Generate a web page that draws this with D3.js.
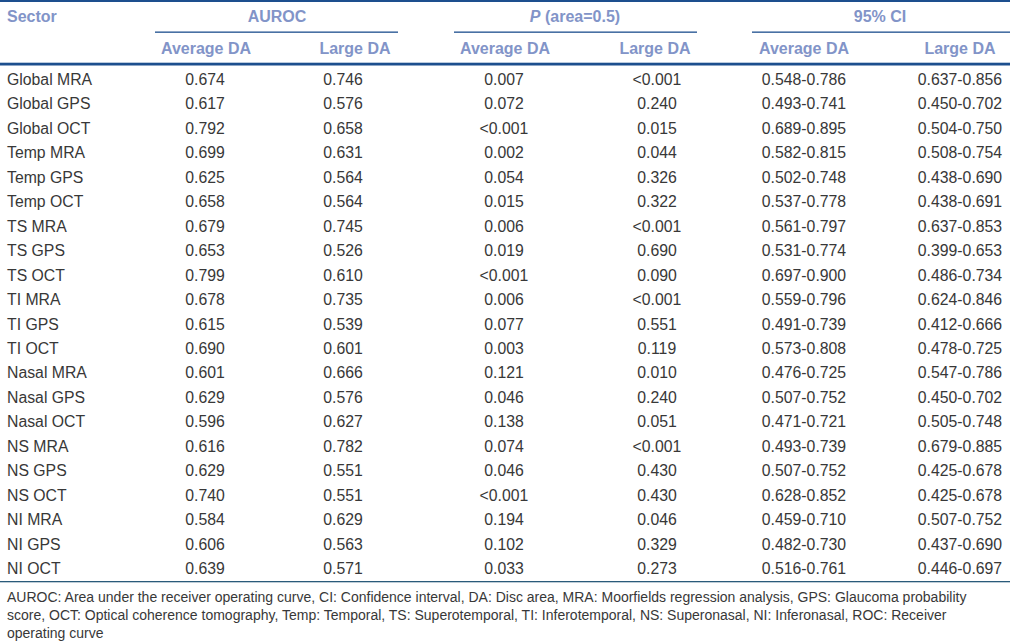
<!DOCTYPE html>
<html><head><meta charset="utf-8">
<script src="https://cdn.jsdelivr.net/npm/d3@7"></script>
<style>
html,body{margin:0;padding:0;background:#fff;}
svg{display:block;font-family:"Liberation Sans",Arial,Helvetica,sans-serif;}
</style></head>
<body>
<svg id="t" width="1010" height="644"></svg>
<script>
const sectors = ["Global MRA","Global GPS","Global OCT","Temp MRA","Temp GPS","Temp OCT","TS MRA","TS GPS","TS OCT","TI MRA","TI GPS","TI OCT","Nasal MRA","Nasal GPS","Nasal OCT","NS MRA","NS GPS","NS OCT","NI MRA","NI GPS","NI OCT"];
const aurocAvg = ["0.674","0.617","0.792","0.699","0.625","0.658","0.679","0.653","0.799","0.678","0.615","0.690","0.601","0.629","0.596","0.616","0.629","0.740","0.584","0.606","0.639"];
const aurocLarge = ["0.746","0.576","0.658","0.631","0.564","0.564","0.745","0.526","0.610","0.735","0.539","0.601","0.666","0.576","0.627","0.782","0.551","0.551","0.629","0.563","0.571"];
const pAvg = ["0.007","0.072","<0.001","0.002","0.054","0.015","0.006","0.019","<0.001","0.006","0.077","0.003","0.121","0.046","0.138","0.074","0.046","<0.001","0.194","0.102","0.033"];
const pLarge = ["<0.001","0.240","0.015","0.044","0.326","0.322","<0.001","0.690","0.090","<0.001","0.551","0.119","0.010","0.240","0.051","<0.001","0.430","0.430","0.046","0.329","0.273"];
const ciAvg = ["0.548-0.786","0.493-0.741","0.689-0.895","0.582-0.815","0.502-0.748","0.537-0.778","0.561-0.797","0.531-0.774","0.697-0.900","0.559-0.796","0.491-0.739","0.573-0.808","0.476-0.725","0.507-0.752","0.471-0.721","0.493-0.739","0.507-0.752","0.628-0.852","0.459-0.710","0.482-0.730","0.516-0.761"];
const ciLarge = ["0.637-0.856","0.450-0.702","0.504-0.750","0.508-0.754","0.438-0.690","0.438-0.691","0.637-0.853","0.399-0.653","0.486-0.734","0.624-0.846","0.412-0.666","0.478-0.725","0.547-0.786","0.450-0.702","0.505-0.748","0.679-0.885","0.425-0.678","0.425-0.678","0.507-0.752","0.437-0.690","0.446-0.697"];
const groupHeaders = ["AUROC","P (area=0.5)","95% CI"];
const subHeaders = ["Average DA","Large DA","Average DA","Large DA","Average DA","Large DA"];
const footnote = ["AUROC: Area under the receiver operating curve, CI: Confidence interval, DA: Disc area, MRA: Moorfields regression analysis, GPS: Glaucoma probability",
"score, OCT: Optical coherence tomography, Temp: Temporal, TS: Superotemporal, TI: Inferotemporal, NS: Superonasal, NI: Inferonasal, ROC: Receiver",
"operating curve"];

// layout
const W = 1010;
const lineCol = "#1d4f8e", headCol = "#8294c8", textCol = "#383838";
const fs = 15.8, fsHead = 16, fsFoot = 14;
const svg = d3.select("#t");

const y = d3.scalePoint().domain(sectors).range([85, 574]);
const valueCols = [aurocAvg, aurocLarge, pAvg, pLarge, ciAvg, ciLarge];
const colX = d3.scaleOrdinal().domain(d3.range(6)).range([205, 343, 504, 657, 804, 960]);
const subX = d3.scaleOrdinal().domain(d3.range(6)).range([206, 355, 505, 655, 804, 960]);
const groups = [{x0:155,x1:398,cx:277},{x0:454,x1:697,cx:575},{x0:752,x1:1010,cx:880}];

// rules
svg.append("rect").attr("x",0).attr("y",0).attr("width",W).attr("height",2).attr("fill",lineCol);
svg.append("rect").attr("x",0).attr("y",62.7).attr("width",W).attr("height",2.8).attr("fill",lineCol);
svg.append("rect").attr("x",0).attr("y",581).attr("width",W).attr("height",1.3).attr("fill","#2a5a7a");
svg.selectAll("rect.g").data(groups).join("rect").attr("class","g")
  .attr("x",d=>d.x0).attr("y",31.5).attr("width",d=>d.x1-d.x0).attr("height",1.3).attr("fill",lineCol);

// headers
const hdr = svg.append("g").attr("fill",headCol).attr("font-weight","bold").attr("font-size",fsHead);
hdr.append("text").attr("x",7).attr("y",22).text("Sector");
hdr.selectAll("text.gh").data(groups).join("text").attr("class","gh")
  .attr("x",d=>d.cx).attr("y",22).attr("text-anchor","middle")
  .each(function(d,i){
    const t = d3.select(this);
    if(i===1){ t.append("tspan").attr("font-style","italic").text("P"); t.append("tspan").text(" (area=0.5)"); }
    else t.text(groupHeaders[i]);
  });
hdr.selectAll("text.sh").data(subHeaders).join("text").attr("class","sh")
  .attr("x",(d,i)=>subX(i)).attr("y",54).attr("text-anchor","middle").text(d=>d);

// body
const body = svg.append("g").attr("fill",textCol).attr("font-size",fs);
body.selectAll("text.s").data(sectors).join("text").attr("class","s")
  .attr("x",7).attr("y",d=>y(d)).text(d=>d);
valueCols.forEach((col,ci)=>{
  body.append("g").selectAll("text").data(col).join("text")
    .attr("x",colX(ci)).attr("y",(d,i)=>y(sectors[i])).attr("text-anchor","middle").text(d=>d);
});

// footnote
svg.append("g").attr("fill",textCol).attr("font-size",fsFoot)
  .selectAll("text").data(footnote).join("text")
  .attr("x",7).attr("y",(d,i)=>602+i*18).text(d=>d);
</script>
</body></html>
